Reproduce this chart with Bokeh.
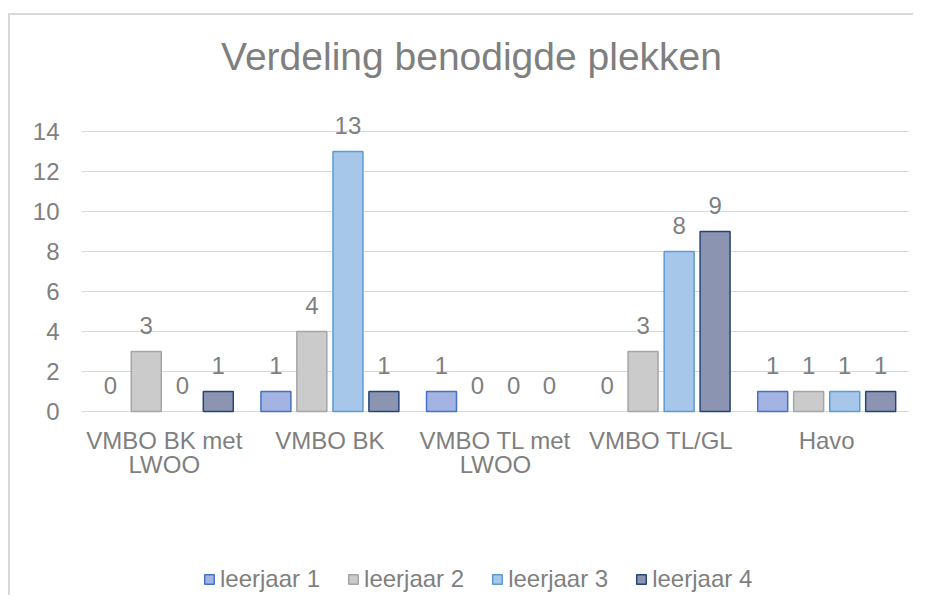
from bokeh.plotting import figure
from bokeh.models import ColumnDataSource, FactorRange, FixedTicker, Legend, LegendItem, CDSView, BooleanFilter
from bokeh.transform import dodge
from bokeh.core.properties import value
from bokeh.embed import file_html
from bokeh.resources import INLINE

# ---- data ----
categories = ["VMBO BK met\nLWOO", "VMBO BK", "VMBO TL met\nLWOO", "VMBO TL/GL", "Havo"]
series_names = ["leerjaar 1", "leerjaar 2", "leerjaar 3", "leerjaar 4"]
leerjaar_1 = [0, 1, 1, 0, 1]
leerjaar_2 = [3, 4, 0, 3, 1]
leerjaar_3 = [0, 13, 0, 8, 1]
leerjaar_4 = [1, 1, 0, 9, 1]
y_ticks = [0, 2, 4, 6, 8, 10, 12, 14]

title_text = "Verdeling benodigde plekken"

FONT = "Liberation Sans"
TXT = "#7f7f7f"
GRID = "#d9d9d9"
FS = "24px"

fills = ["#a3b4e2", "#cbcbcb", "#a6c6ea", "#8b94b0"]
lines = ["#4472c4", "#a5a5a5", "#5b9bd5", "#264478"]
offsets = [-0.326, -0.109, 0.109, 0.326]
bar_w = 0.181

series_values = [leerjaar_1, leerjaar_2, leerjaar_3, leerjaar_4]
data = dict(cat=categories, zero=[0] * len(categories))
cols = []
for i, vals in enumerate(series_values):
    k = f"s{i}"
    data[k] = vals
    data[k + "_t"] = [str(v) for v in vals]
    cols.append(k)
src = ColumnDataSource(data)

# frame spans almost the whole canvas; value 0 sits at the chart's baseline
p = figure(
    x_range=FactorRange(factors=categories, range_padding=0),
    y_range=(-9.2, 19.8),
    width=905, height=582, title=None,
    x_axis_location=None,
    output_backend="svg", toolbar_location=None,
    min_border_left=71, min_border_right=6, min_border_top=0, min_border_bottom=2,
)
p.styles = {"border-left": "2px solid #d9d9d9", "border-top": "2px solid #d9d9d9",
            "margin-top": "13px", "margin-left": "8px"}
p.outline_line_color = None
p.background_fill_color = "white"
p.border_fill_color = "white"

# title
p.text(x=[categories[2]], y=[17.75], text=[title_text], x_offset=-24,
       text_font=value(FONT), text_font_size="39px", text_color=TXT,
       text_align="center", text_baseline="alphabetic")

renderers = []
for i, k in enumerate(cols):
    view = CDSView(filter=BooleanFilter([v > 0 for v in series_values[i]]))  # empty bars are not drawn
    r = p.vbar(x=dodge("cat", offsets[i], range=p.x_range), top=k, bottom=0, width=bar_w,
               source=src, view=view, fill_color=fills[i], line_color=lines[i], line_width=1.5)
    renderers.append(r)
    p.text(x=dodge("cat", offsets[i], range=p.x_range), y=k, text=k + "_t", source=src,
           text_font=value(FONT), text_font_size=FS, text_color=TXT,
           text_align="center", text_baseline="alphabetic", y_offset=-26)

# category labels
p.text(x="cat", y="zero", text="cat", source=src, y_offset=15,
       text_font=value(FONT), text_font_size=FS, text_color=TXT,
       text_align="center", text_baseline="top", text_line_height=0.92)

# y axis
p.yaxis.ticker = FixedTicker(ticks=y_ticks)
p.yaxis.axis_line_color = None
p.yaxis.major_tick_line_color = None
p.yaxis.minor_tick_line_color = None
p.yaxis.major_label_text_font = FONT
p.yaxis.major_label_text_font_size = FS
p.yaxis.major_label_text_color = TXT
p.yaxis.major_label_standoff = 16

p.xgrid.grid_line_color = None
p.ygrid.grid_line_color = GRID
p.ygrid.grid_line_width = 1
p.ygrid.ticker = FixedTicker(ticks=y_ticks)

legend = Legend(
    items=[LegendItem(label=series_names[i], renderers=[renderers[i]]) for i in range(4)],
    orientation="horizontal", location=(122, 2),
    glyph_width=12, glyph_height=12, label_standoff=5, spacing=27,
    padding=0, margin=0, border_line_color=None, background_fill_alpha=0,
    label_text_font=FONT, label_text_font_size=FS, label_text_color=TXT,
)
p.add_layout(legend, "center")

open("out.html", "w").write(file_html(p, INLINE))
